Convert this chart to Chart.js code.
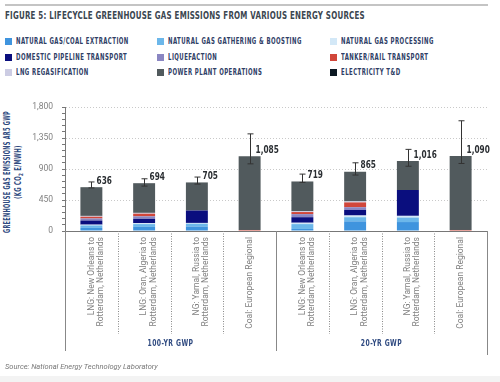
<!DOCTYPE html>
<html>
<head>
<meta charset="utf-8">
<script src="https://cdn.jsdelivr.net/npm/chart.js@4.4.1/dist/chart.umd.min.js"></script>
<style>
  body { margin: 0; background: #fff; width: 500px; height: 382px; overflow: hidden; position: relative; font-family: "Liberation Sans Narrow", "DejaVu Sans Condensed", sans-serif; }
  #topline { position: absolute; left: 5px; top: 4px; width: 483px; height: 2px; background: #c4c4c4; }
  #titulo { position: absolute; left: 5px; top: 9px; font-weight: bold; font-size: 11px; color: #3b4650; letter-spacing: 0.3px; white-space: nowrap; transform-origin: left center; }
  .ley { position: absolute; font-weight: bold; font-size: 8px; color: #2f4066; white-space: nowrap; display: flex; align-items: center; }
  .ley i { display: inline-block; width: 7px; height: 7px; margin-right: 4px; flex: none; }
  .ley span { display: inline-block; letter-spacing: 0.6px; transform-origin: left center; }
  #ytit { position: absolute; left: 14px; top: 172px; transform: translate(-50%, -50%) rotate(-90deg); text-align: center; font-weight: bold; font-size: 8px; line-height: 11px; color: #2f4a80; letter-spacing: 0.4px; white-space: nowrap; }
  #ytit span { display: block; margin: 0 auto; width: max-content; }
  #fuente { position: absolute; left: 5px; top: 362px; font-family: Roboto, sans-serif; font-style: italic; font-size: 7.5px; color: #777; }
  #pie { position: absolute; left: 0; top: 376px; width: 500px; height: 6px; background: #f3f3f3; }
  canvas { position: absolute; left: 0; top: 0; }
</style>
</head>
<body>
<div id="topline"></div>
<div id="titulo">FIGURE 5: LIFECYCLE GREENHOUSE GAS EMISSIONS FROM VARIOUS ENERGY SOURCES</div>
<div id="leyenda"></div>
<div id="ytit"><span id="yt1">GREENHOUSE GAS EMISSIONS AR5 GWP</span><span id="yt2">(KG CO<sub style="font-size:6px">2</sub> E/MWH)</span></div>
<canvas id="grafico" width="500" height="382"></canvas>
<div id="fuente">Source: National Energy Technology Laboratory</div>
<div id="pie"></div>
<script>
// categorias (eje x)
const categorias = [
  ['LNG: New Orleans to', 'Rotterdam, Netherlands'],
  ['LNG: Oran, Algeria to', 'Rotterdam, Netherlands'],
  ['NG: Yamal, Russia to', 'Rotterdam, Netherlands'],
  'Coal: European Regional',
  ['LNG: New Orleans to', 'Rotterdam, Netherlands'],
  ['LNG: Oran, Algeria to', 'Rotterdam, Netherlands'],
  ['NG: Yamal, Russia to', 'Rotterdam, Netherlands'],
  'Coal: European Regional'
];
const grupos = ['100-YR GWP', '20-YR GWP'];
const ticksY = [0, 450, 900, 1350, 1800];
const menoresPorTick = 5; // marcas pequeñas entre etiquetas

// series (kg CO2e/MWh)
const extraccion   = [45, 60, 65, 0, 30, 140, 130, 0];
const recoleccion  = [35, 40, 40, 0, 70, 60, 65, 0];
const procesado    = [12, 15, 12, 0, 20, 25, 25, 0];
const gasoducto    = [60, 60, 180, 0, 80, 80, 375, 0];
const licuefaccion = [30, 38, 0, 0, 45, 40, 0, 0];
const transporte   = [25, 38, 0, 15, 30, 70, 0, 15];
const regasif      = [12, 12, 0, 0, 12, 15, 0, 0];
const centrales    = [417, 431, 408, 1070, 432, 430, 421, 1075];
const tyd          = [0, 0, 0, 0, 0, 0, 0, 0];

const totales = [636, 694, 705, 1085, 719, 865, 1016, 1090];
const errBajo = [625, 652, 681, 975, 705, 812, 940, 980];
const errAlto = [712, 758, 783, 1410, 826, 990, 1185, 1600];

const series = [
  { nombre: 'NATURAL GAS/COAL EXTRACTION', datos: extraccion, color: '#3f94de' },
  { nombre: 'NATURAL GAS GATHERING & BOOSTING', datos: recoleccion, color: '#6cb7ea' },
  { nombre: 'NATURAL GAS PROCESSING', datos: procesado, color: '#d3e8f7' },
  { nombre: 'DOMESTIC PIPELINE TRANSPORT', datos: gasoducto, color: '#0a0e7e' },
  { nombre: 'LIQUEFACTION', datos: licuefaccion, color: '#8a86c2' },
  { nombre: 'TANKER/RAIL TRANSPORT', datos: transporte, color: '#d1463a' },
  { nombre: 'LNG REGASIFICATION', datos: regasif, color: '#cccce3' },
  { nombre: 'POWER PLANT OPERATIONS', datos: centrales, color: '#515a5d' },
  { nombre: 'ELECTRICITY T&D', datos: tyd, color: '#0c1822' }
];

// encoger texto a un ancho dado
function ajustar(el, ancho) {
  const w = el.offsetWidth;
  if (w > 0) el.style.transform = `scaleX(${ancho / w})`;
}

// leyenda en html, 3 columnas
const colX = [5, 157, 330];
const filaY = [37, 53, 68];
const ley = document.getElementById('leyenda');
const spans = [];
series.forEach((s, i) => {
  const d = document.createElement('div');
  d.className = 'ley';
  d.style.left = colX[i % 3] + 'px';
  d.style.top = filaY[Math.floor(i / 3)] + 'px';
  d.innerHTML = `<i style="background:${s.color}"></i><span>${s.nombre.replace('&', '&amp;')}</span>`;
  ley.appendChild(d);
  spans.push(d.querySelector('span'));
});
const factorLey = 113 / spans[0].offsetWidth;
spans.forEach(sp => sp.style.transform = `scaleX(${factorLey})`);

ajustar(document.getElementById('titulo'), 360);
ajustar(document.getElementById('yt1'), 122);
ajustar(document.getElementById('yt2'), 54);

const fuenteNum = 'bold 10.5px "Liberation Sans Narrow", "DejaVu Sans Condensed", sans-serif';

// barras de error, totales y separadores
const extras = {
  id: 'extras',
  afterDatasetsDraw(chart) {
    const { ctx, scales: { x, y } } = chart;
    ctx.save();
    ctx.strokeStyle = '#333';
    ctx.lineWidth = 1;
    totales.forEach((t, i) => {
      const cx = Math.round(x.getPixelForValue(i)) + 0.5;
      const y1 = y.getPixelForValue(errBajo[i]);
      const y2 = y.getPixelForValue(errAlto[i]);
      ctx.beginPath();
      ctx.moveTo(cx, y1); ctx.lineTo(cx, y2);
      ctx.moveTo(cx - 3, y1); ctx.lineTo(cx + 3, y1);
      ctx.moveTo(cx - 3, y2); ctx.lineTo(cx + 3, y2);
      ctx.stroke();
      ctx.save();
      ctx.translate(cx + 5, y.getPixelForValue(t) - 6);
      ctx.scale(0.78, 1);
      ctx.fillStyle = '#2b2f33';
      ctx.font = fuenteNum;
      ctx.textAlign = 'left';
      ctx.textBaseline = 'middle';
      ctx.fillText(t.toLocaleString('en-US'), 0, 0);
      ctx.restore();
    });
    ctx.restore();
  },
  afterDraw(chart) {
    const { ctx, chartArea: a } = chart;
    const paso = (a.right - a.left) / categorias.length;
    ctx.save();
    ctx.strokeStyle = '#888';
    ctx.lineWidth = 1;
    for (let k = 0; k <= categorias.length; k++) {
      const px = Math.round(a.left + k * paso) + 0.5;
      ctx.beginPath();
      if (k % 4 === 0) {
        ctx.setLineDash([]);
        ctx.moveTo(px, a.bottom); ctx.lineTo(px, k === 8 ? 355 : 351);
      } else {
        ctx.setLineDash([1, 1.5]);
        ctx.moveTo(px, a.bottom); ctx.lineTo(px, 334);
      }
      ctx.stroke();
    }
    ctx.setLineDash([]);
    ctx.fillStyle = '#2f4a80';
    ctx.font = 'bold 9px "Liberation Sans Narrow", "DejaVu Sans Condensed", sans-serif';
    ctx.textAlign = 'center';
    ctx.textBaseline = 'middle';
    if (ctx.letterSpacing !== undefined) ctx.letterSpacing = '0.6px';
    grupos.forEach((g, j) => {
      ctx.save();
      ctx.translate(a.left + (j * 4 + 2) * paso, 344);
      ctx.scale(0.75, 1);
      ctx.fillText(g, 0, 0);
      ctx.restore();
    });
    ctx.restore();
  }
};

new Chart(document.getElementById('grafico'), {
  type: 'bar',
  data: {
    labels: categorias,
    datasets: series.map(s => ({
      label: s.nombre,
      data: s.datos,
      backgroundColor: s.color,
      borderWidth: 0,
      barPercentage: 0.52,
      categoryPercentage: 0.8
    }))
  },
  options: {
    responsive: false,
    animation: false,
    devicePixelRatio: 1,
    layout: { padding: { left: 0, right: 13, top: 107, bottom: 30 } },
    plugins: { legend: { display: false }, tooltip: { enabled: false } },
    scales: {
      x: {
        stacked: true,
        afterFit(s) { s.height = 121; },
        grid: { display: true, drawOnChartArea: false, drawTicks: false, color: 'transparent' },
        border: { display: true, color: '#777', width: 1 },
        ticks: {
          minRotation: 90, maxRotation: 90, autoSkip: false, padding: 6,
          color: '#808080',
          font: { family: 'Roboto, sans-serif', size: 8.5, lineHeight: 1.1 }
        }
      },
      y: {
        stacked: true,
        min: 0, max: 1800,
        afterFit(s) { s.width = 65; },
        afterBuildTicks(s) {
          const paso = (ticksY[1] - ticksY[0]) / menoresPorTick;
          const lista = [];
          for (let v = ticksY[0]; v <= ticksY[ticksY.length - 1]; v += paso) lista.push({ value: v });
          s.ticks = lista;
        },
        grid: {
          color: c => (c.tick && ticksY.includes(c.tick.value) && c.tick.value > 0) ? '#c9c9c9' : 'transparent',
          tickColor: '#777', tickLength: 3, lineWidth: 1
        },
        border: { display: true, color: '#777', width: 1, dash: [1, 2] },
        ticks: {
          autoSkip: false, padding: 9, color: '#808080',
          font: { family: 'Roboto, sans-serif', size: 8.5 },
          callback: v => ticksY.includes(v) ? v.toLocaleString('en-US') : ''
        }
      }
    }
  },
  plugins: [extras]
});
</script>
</body>
</html>
